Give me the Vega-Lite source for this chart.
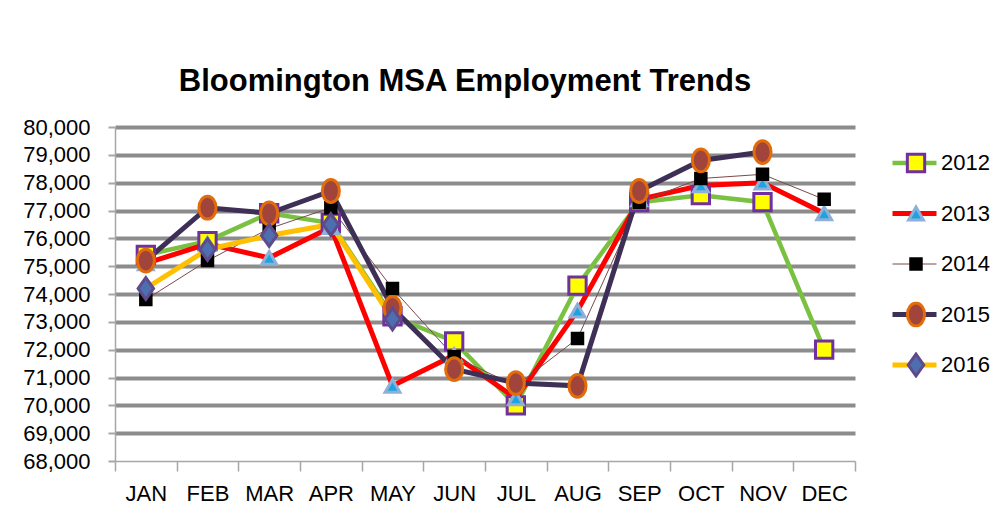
{
  "$schema": "https://vega.github.io/schema/vega-lite/v6.json",
  "autosize": {"type": "none"},
  "width": 740,
  "height": 334,
  "padding": {"left": 115, "top": 127, "right": 140, "bottom": 49},
  "background": "white",
  "title": {
    "text": "Bloomington MSA Employment Trends",
    "font": "Liberation Sans, Arial, sans-serif",
    "fontSize": 31,
    "fontWeight": "bold",
    "color": "#000000",
    "anchor": "middle",
    "frame": "group",
    "dx": -20,
    "baseline": "alphabetic",
    "offset": -6
  },
  "config": {
    "view": {"stroke": null},
    "font": "Liberation Sans, Arial, sans-serif"
  },
  "data": {
    "values": [
      {"month": "JAN", "year": "2012", "value": 75400},
      {"month": "FEB", "year": "2012", "value": 75900},
      {"month": "MAR", "year": "2012", "value": 76900},
      {"month": "APR", "year": "2012", "value": 76550},
      {"month": "MAY", "year": "2012", "value": 73200},
      {"month": "JUN", "year": "2012", "value": 72300},
      {"month": "JUL", "year": "2012", "value": 70000},
      {"month": "AUG", "year": "2012", "value": 74300},
      {"month": "SEP", "year": "2012", "value": 77300},
      {"month": "OCT", "year": "2012", "value": 77550},
      {"month": "NOV", "year": "2012", "value": 77300},
      {"month": "DEC", "year": "2012", "value": 72000},
      {"month": "JAN", "year": "2013", "value": 75100},
      {"month": "FEB", "year": "2013", "value": 75800},
      {"month": "MAR", "year": "2013", "value": 75300},
      {"month": "APR", "year": "2013", "value": 76400},
      {"month": "MAY", "year": "2013", "value": 70700},
      {"month": "JUN", "year": "2013", "value": 71800},
      {"month": "JUL", "year": "2013", "value": 70250},
      {"month": "AUG", "year": "2013", "value": 73400},
      {"month": "SEP", "year": "2013", "value": 77400},
      {"month": "OCT", "year": "2013", "value": 77900},
      {"month": "NOV", "year": "2013", "value": 78000},
      {"month": "DEC", "year": "2013", "value": 76900},
      {"month": "JAN", "year": "2014", "value": 73800},
      {"month": "FEB", "year": "2014", "value": 75200},
      {"month": "MAR", "year": "2014", "value": 76350},
      {"month": "APR", "year": "2014", "value": 77100},
      {"month": "MAY", "year": "2014", "value": 74200},
      {"month": "JUN", "year": "2014", "value": 71750},
      {"month": "JUL", "year": "2014", "value": 70700},
      {"month": "AUG", "year": "2014", "value": 72400},
      {"month": "SEP", "year": "2014", "value": 77300},
      {"month": "OCT", "year": "2014", "value": 78150},
      {"month": "NOV", "year": "2014", "value": 78300},
      {"month": "DEC", "year": "2014", "value": 77400},
      {"month": "JAN", "year": "2015", "value": 75200},
      {"month": "FEB", "year": "2015", "value": 77100},
      {"month": "MAR", "year": "2015", "value": 76900},
      {"month": "APR", "year": "2015", "value": 77700},
      {"month": "MAY", "year": "2015", "value": 73500},
      {"month": "JUN", "year": "2015", "value": 71300},
      {"month": "JUL", "year": "2015", "value": 70800},
      {"month": "AUG", "year": "2015", "value": 70700},
      {"month": "SEP", "year": "2015", "value": 77700},
      {"month": "OCT", "year": "2015", "value": 78800},
      {"month": "NOV", "year": "2015", "value": 79100},
      {"month": "JAN", "year": "2016", "value": 74200},
      {"month": "FEB", "year": "2016", "value": 75600},
      {"month": "MAR", "year": "2016", "value": 76100},
      {"month": "APR", "year": "2016", "value": 76500},
      {"month": "MAY", "year": "2016", "value": 73100}
    ]
  },
  "encoding": {
    "x": {
      "field": "month",
      "type": "ordinal",
      "sort": ["JAN", "FEB", "MAR", "APR", "MAY", "JUN", "JUL", "AUG", "SEP", "OCT", "NOV", "DEC"],
      "scale": {"type": "band", "paddingInner": 0, "paddingOuter": 0},
      "axis": {
        "title": null,
        "labelAngle": 0,
        "labelFontSize": 22,
        "labelColor": "#000000",
        "labelPadding": 12,
        "tickBand": "extent",
        "tickSize": 10,
        "tickColor": "#a6a6a6",
        "tickWidth": 1.5,
        "domainColor": "#a6a6a6",
        "domainWidth": 1.5,
        "grid": false
      }
    },
    "y": {
      "field": "value",
      "type": "quantitative",
      "scale": {"domain": [68000, 80000], "nice": false, "zero": false},
      "axis": {
        "title": null,
        "values": [68000, 69000, 70000, 71000, 72000, 73000, 74000, 75000, 76000, 77000, 78000, 79000, 80000],
        "format": ",d",
        "labelFontSize": 22,
        "labelColor": "#000000",
        "labelPadding": 18,
        "tickSize": 7,
        "tickColor": "#a6a6a6",
        "tickWidth": 2,
        "domainColor": "#a6a6a6",
        "domainWidth": 1.5,
        "grid": true,
        "gridColor": "#8c8c8c",
        "gridWidth": 4,
        "gridOpacity": {"condition": {"test": "datum.value == 68000", "value": 0}, "value": 1}
      }
    }
  },
  "layer": [
    {
      "mark": {"type": "line"},
      "encoding": {
        "color": {
          "field": "year",
          "type": "nominal",
          "scale": {
            "range": ["#7ac142", "#ff0000", "#7b4a4a", "#3d2f55", "#ffc000"]
          },
          "legend": {
            "orient": "none",
            "legendX": 775,
            "legendY": 23,
            "title": null,
            "padding": 0,
            "symbolType": "stroke",
            "symbolSize": 1936,
            "clipHeight": 26,
            "rowPadding": 24.5,
            "labelOffset": 2,
            "labelFontSize": 22,
            "labelColor": "#000000"
          }
        },
        "strokeWidth": {
          "field": "year",
          "type": "nominal",
          "scale": {
            "type": "ordinal",
            "range": [4.5, 5, 1, 5, 5]
          }
        }
      }
    },
    {
      "mark": {"type": "point", "filled": true, "opacity": 1, "strokeWidth": 3},
      "encoding": {
        "shape": {
          "field": "year",
          "type": "nominal",
          "scale": {
            "domain": ["2012", "2013", "2014", "2015", "2016"],
            "range": ["square", "triangle-up", "square", "M-0.75,0A0.75,1,0,1,0,0.75,0A0.75,1,0,1,0,-0.75,0Z", "M0,-1.2L0.85,0L0,1.2L-0.85,0Z"]
          },
          "legend": {
            "orient": "none",
            "legendX": 788,
            "legendY": 23,
            "title": null,
            "padding": 0,
            "clipHeight": 26,
            "rowPadding": 24.5,
            "labelFontSize": 22,
            "labelExpr": "''",
            "symbolStrokeWidth": 3
          }
        },
        "fill": {
          "field": "year",
          "type": "nominal",
          "scale": {
            "domain": ["2012", "2013", "2014", "2015", "2016"],
            "range": ["#ffff00", "#1fa3e0", "#000000", "#a0443c", "#4d6fb0"]
          }
        },
        "stroke": {
          "field": "year",
          "type": "nominal",
          "scale": {
            "domain": ["2012", "2013", "2014", "2015", "2016"],
            "range": ["#7030a0", "#8eb0d8", "#000000", "#e36c0a", "#5f4b8b"]
          }
        },
        "size": {
          "field": "year",
          "type": "nominal",
          "scale": {
            "type": "ordinal",
            "domain": ["2012", "2013", "2014", "2015", "2016"],
            "range": [300, 220, 110, 520, 330]
          }
        }
      }
    }
  ]
}
